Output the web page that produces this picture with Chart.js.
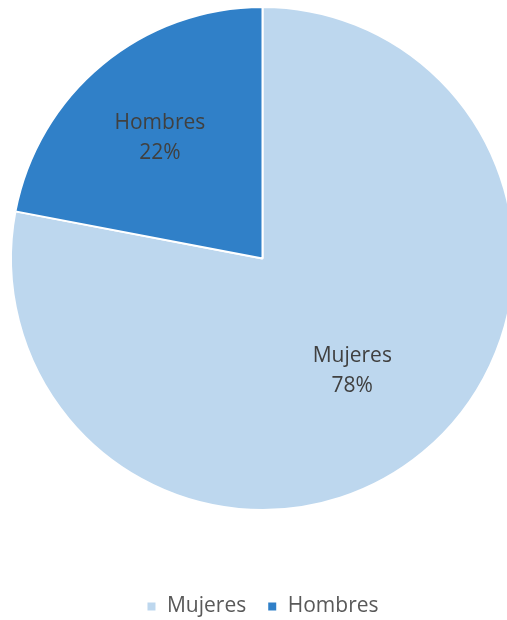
<!DOCTYPE html>
<html>
<head>
<meta charset="utf-8">
<script src="https://cdn.jsdelivr.net/npm/chart.js@4/dist/chart.umd.min.js"></script>
<style>
  html, body { margin: 0; padding: 0; background: #fff; }
  #frame { width: 507px; height: 620px; overflow: hidden; position: relative; }
  #wrap { width: 526px; height: 620px; position: absolute; left: 0; top: 0; }
</style>
</head>
<body>
<div id="frame">
  <div id="wrap"><canvas id="pieChart"></canvas></div>
</div>
<script>
const labels = ['Mujeres', 'Hombres']
const values = [78, 22]
const colors = ['#BDD7EE', '#3080C8']

// draws "Label\nNN%" inside each slice, Excel style
const sliceLabels = {
  id: 'sliceLabels',
  afterDatasetsDraw(chart, args, opts) {
    const { ctx } = chart
    const meta = chart.getDatasetMeta(0)
    const data = chart.data.datasets[0].data
    const total = data.reduce((sum, v) => sum + v, 0)

    ctx.save()
    ctx.font = opts.font
    ctx.fillStyle = opts.color
    ctx.textAlign = 'center'
    ctx.textBaseline = 'middle'

    meta.data.forEach((arc, i) => {
      const p = arc.getProps(['x', 'y', 'startAngle', 'endAngle', 'outerRadius'], true)
      const mid = (p.startAngle + p.endAngle) / 2
      const r = p.outerRadius * opts.distance[i]
      const cx = p.x + Math.cos(mid) * r
      const cy = p.y + Math.sin(mid) * r + opts.dy
      const pct = Math.round(data[i] / total * 100) + '%'
      ctx.fillText(chart.data.labels[i], cx, cy - opts.lineGap / 2)
      ctx.fillText(pct, cx, cy + opts.lineGap / 2)
    })
    ctx.restore()
  }
}

new Chart(document.getElementById('pieChart'), {
  type: 'pie',
  data: {
    labels,
    datasets: [
      {
        data: values,
        backgroundColor: colors,
        borderColor: '#ffffff',
        borderWidth: 2
      }
    ]
  },
  options: {
    responsive: true,
    maintainAspectRatio: false,
    animation: false,
    layout: {
      padding: { top: 5, left: 10, right: 11, bottom: -7 }
    },
    plugins: {
      tooltip: { enabled: false },
      legend: {
        position: 'bottom',
        title: {
          display: true,
          text: ' ',
          font: { size: 10, lineHeight: 1 },
          padding: { top: 53, bottom: 0 }
        },
        labels: {
          boxWidth: 10,
          boxHeight: 10,
          padding: 21,
          color: '#595959',
          font: { family: '"Open Sans", sans-serif', size: 21 }
        }
      },
      sliceLabels: {
        font: '21px "Open Sans", sans-serif',
        color: '#404040',
        lineGap: 30,
        dy: 4,
        distance: [0.56, 0.64]
      }
    }
  },
  plugins: [sliceLabels]
})
</script>
</body>
</html>
